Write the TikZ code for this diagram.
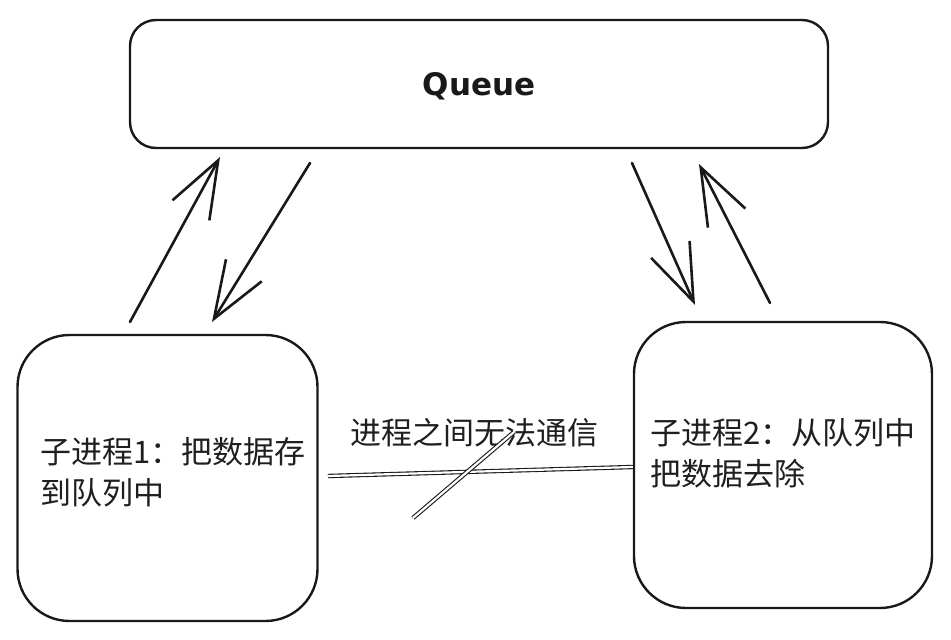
\documentclass[tikz,border=0pt]{standalone}
\usepackage{fontspec}
\setmainfont{Noto Sans}
\newfontfamily\cjk{Noto Sans CJK SC}
\newfontfamily\qfont{DejaVu Sans}
\usetikzlibrary{arrows.meta}
\tikzset{
  sketchbox/.style={draw=black!90, line width=2.4pt, inner sep=0pt},
  cjktext/.style={font=\cjk\fontsize{31}{41}\selectfont, text=black!88, inner sep=0pt, align=left, anchor=west},
  flowarrow/.style={draw=black!90, line width=2.6pt, line cap=round,
    -{Straight Barb[length=57pt, width=42pt, line width=2.6pt]}},
  dblline/.style={draw=black!90, double=white, double distance=2.2pt, line width=1.1pt}
}
\begin{document}
\begin{tikzpicture}[x=1pt, y=-1pt]
\useasboundingbox (0,0) rectangle (951,640);
% boxes
\node[sketchbox, rounded corners=26pt, minimum width=698pt, minimum height=128pt] (queue) at (479,84) {};
\node[font=\qfont\bfseries\fontsize{31}{36}\selectfont, text=black!90] (qlabel) at (479,86) {Queue};
\node[sketchbox, rounded corners=52pt, minimum width=300pt, minimum height=286pt] (p1) at (167.5,478) {};
\node[sketchbox, rounded corners=52pt, minimum width=298pt, minimum height=286pt] (p2) at (783,465) {};
% texts
\node[cjktext] (t1) at (40,472) {子进程1：把数据存\\到队列中};
\node[cjktext] (t2) at (650,453) {子进程2：从队列中\\把数据去除};
\node[cjktext] (t3) at (350,433) {进程之间无法通信};
% arrow end points
\coordinate (a1s) at (130,322); \coordinate (a1e) at (220,157);
\coordinate (a2s) at (310,163); \coordinate (a2e) at (212,322);
\coordinate (a3s) at (632,163); \coordinate (a3e) at (695,305);
\coordinate (a4s) at (770,303); \coordinate (a4e) at (699,164);
\draw[flowarrow] (a1s) -- (a1e);
\draw[flowarrow] (a2s) -- (a2e);
\draw[flowarrow] (a3s) -- (a3e);
\draw[flowarrow] (a4s) -- (a4e);
% no-communication link
\coordinate (ls) at (328,476); \coordinate (le) at (p2.west |- 0,467);
\draw[dblline] (ls) -- (le);
\coordinate (ss) at (413,518); \coordinate (se) at (514,432);
\draw[dblline] (ss) -- (se);
\end{tikzpicture}
\end{document}
